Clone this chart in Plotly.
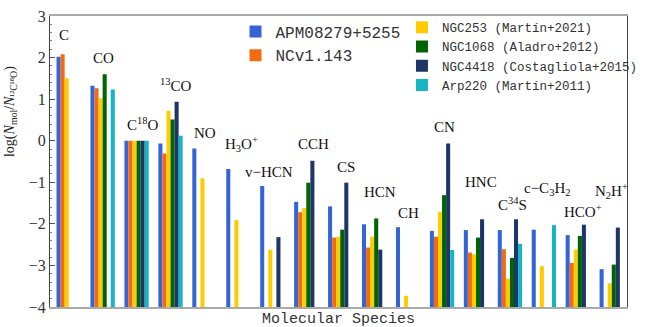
import plotly.graph_objects as go

# molecular species (x categories)
species = ["C", "CO", "C18O", "13CO", "NO", "H3O+", "v-HCN", "CCH", "CS", "HCN",
           "CH", "CN", "HNC", "C34S", "c-C3H2", "HCO+", "N2H+"]

# log(N_mol / N_C18O) for each source, None = not observed
apm08279 = [2.02, 1.32, 0.0, -0.07, -0.19, -0.68, -1.09, -1.47, -1.58, -2.01,
            -2.08, -2.17, -2.15, -2.15, -2.14, -2.27, -3.09]
ncv1143 = [2.08, 1.26, 0.0, -0.31, None, None, None, -1.72, -2.33, -2.57,
           None, -2.31, -2.69, -2.61, None, -2.94, None]
ngc253 = [1.50, 1.02, 0.0, 0.72, -0.90, -1.91, -2.62, -1.62, -2.31, -2.31,
          -3.73, -1.71, -2.73, -3.32, -3.02, -2.62, -3.43]
ngc1068 = [None, 1.60, 0.0, 0.51, None, None, None, -1.01, -2.14, -1.87,
           None, -1.31, -2.33, -2.82, None, -2.29, -2.98]
ngc4418 = [None, None, 0.0, 0.94, None, None, -2.32, -0.48, -1.01, -2.62,
           None, -0.07, -1.89, -1.89, None, -2.02, -2.09]
arp220 = [None, 1.23, 0.0, 0.12, None, None, None, None, None, None,
          None, -2.63, None, -2.48, -2.03, None, None]

y_ticks = [-4, -3, -2, -1, 0, 1, 2, 3]

BASE = -4

series = [
    ("APM08279+5255", apm08279, "#3565D4", "legend"),
    ("NCv1.143", ncv1143, "#F26A12", "legend"),
    ("NGC253 (Martín+2021)", ngc253, "#FFCC00", "legend2"),
    ("NGC1068 (Aladro+2012)", ngc1068, "#006400", "legend2"),
    ("NGC4418 (Costagliola+2015)", ngc4418, "#1E3567", "legend2"),
    ("Arp220 (Martín+2011)", arp220, "#17B5C4", "legend2"),
]

# species labels: (text, x shift in px from group centre, y in data units)
labels = {
    "C": ("C", -12, 2.44),
    "CO": ("CO", -12, 1.87),
    "C18O": ("C<sup>18</sup>O", -12, 0.30),
    "13CO": ("<sup>13</sup>CO", -13, 1.24),
    "NO": ("NO", -12.5, 0.07),
    "H3O+": ("H<sub>3</sub>O<sup>+</sup>", -16, -0.18),
    "v-HCN": ("v−HCN", -30, -0.85),
    "CCH": ("CCH", -11, -0.19),
    "CS": ("CS", -5.5, -0.74),
    "HCN": ("HCN", -12, -1.33),
    "CH": ("CH", -12, -1.84),
    "CN": ("CN", -10, 0.23),
    "HNC": ("HNC", -13.5, -1.09),
    "C34S": ("C<sup>34</sup>S", -14, -1.62),
    "c-C3H2": ("c−C<sub>3</sub>H<sub>2</sub>", -22, -1.28),
    "HCO+": ("HCO<sup>+</sup>", -16.5, -1.79),
    "N2H+": ("N<sub>2</sub>H<sup>+</sup>", -19.5, -1.31),
}

fig = go.Figure()

for name, vals, color, lg in series:
    fig.add_trace(go.Bar(
        x=species,
        y=[None if v is None else v - BASE for v in vals],
        base=BASE,
        name=name,
        marker=dict(color=color, line=dict(width=0)),
        legend=lg,
    ))

for i, sp in enumerate(species):
    text, dx, y = labels[sp]
    fig.add_annotation(
        x=i + dx / 34.82, y=y, yshift=4.5, text=text, showarrow=False,
        xanchor="left", yanchor="middle",
        font=dict(family="Liberation Serif", size=15, color="#111"),
    )

fig.add_annotation(
    xref="paper", yref="paper", x=0.5, y=0, yshift=-12,
    text="Molecular Species", showarrow=False, yanchor="middle",
    font=dict(family="Liberation Mono", size=15, color="#333"),
)
fig.add_annotation(
    xref="paper", yref="paper", x=0, xshift=-40, y=0.67,
    text="log(<i>N</i><sub>mol</sub>/<i>N</i><sub>¹²C¹⁸O</sub>)",
    showarrow=False, textangle=-90, xanchor="center", yanchor="middle",
    font=dict(family="Liberation Serif", size=14, color="#222"),
)

fig.update_layout(
    width=651, height=327,
    margin=dict(l=50, r=9, t=8, b=20),
    barmode="group", bargap=0.283, bargroupgap=0,
    plot_bgcolor="white", paper_bgcolor="white",
    showlegend=True,
    legend=dict(
        x=0.3215, y=1.005, xanchor="left", yanchor="top",
        font=dict(family="Liberation Mono", size=16, color="#333"),
        bgcolor="rgba(0,0,0,0)", tracegroupgap=0,
    ),
    legend2=dict(
        x=0.61, y=1.012, xanchor="left", yanchor="top",
        font=dict(family="Liberation Mono", size=12.5, color="#333"),
        bgcolor="rgba(0,0,0,0)", tracegroupgap=0,
    ),
)

fig.update_xaxes(
    range=[-0.551, 16.449], showticklabels=False, ticks="",
    showline=True, linecolor="#aaaaaa", linewidth=1.5, mirror=True,
    showgrid=False, zeroline=False,
)
fig.update_yaxes(
    range=[-4, 3], tickvals=y_ticks,
    ticktext=[str(t).replace("-", "−") for t in y_ticks],
    ticks="inside", ticklen=5, tickcolor="#555",
    minor=dict(ticks="inside", ticklen=2, dtick=0.2, tickcolor="#888"),
    showline=True, linecolor="#444", linewidth=1, mirror=True,
    showgrid=False, zeroline=False,
    tickfont=dict(family="Liberation Serif", size=16, color="#333"),
)

fig.write_html("out.html", config={"displayModeBar": False},
               post_script="document.body.style.margin='0px';")
